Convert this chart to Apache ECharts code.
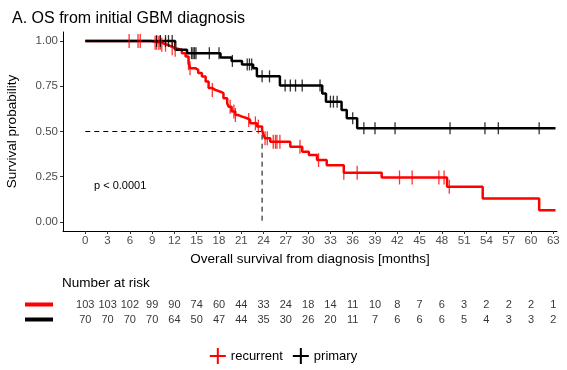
<!DOCTYPE html>
<html>
<head>
<meta charset="utf-8">
<script src="https://cdn.jsdelivr.net/npm/echarts@6/dist/echarts.min.js"></script>
<style>html,body{margin:0;padding:0;background:#fff}#c{width:567px;height:370px}</style>
</head>
<body>
<div id="c"></div>
<script>
// ---- data ----
const redTimes = [0, 8.8, 10.3, 11.0, 11.6, 12.1, 13.0, 13.5, 13.9, 14.1, 14.8, 15.2, 15.7, 16.2, 16.6, 17.1, 17.5, 18.2, 18.6, 19.1, 19.3, 19.7, 20.2, 20.6, 21.1, 21.8, 22.2, 23.1, 23.8, 24.0, 24.2, 24.9, 27.6, 29.2, 30.1, 31.2, 32.5, 34.8, 39.9, 48.7, 53.5, 61.1, 63.3];
const redSurv  = [1.0, 0.99, 0.98, 0.97, 0.96, 0.952, 0.933, 0.915, 0.878, 0.85, 0.841, 0.823, 0.804, 0.776, 0.74, 0.73, 0.72, 0.712, 0.684, 0.656, 0.637, 0.61, 0.591, 0.582, 0.573, 0.564, 0.545, 0.527, 0.508, 0.48, 0.462, 0.443, 0.416, 0.388, 0.37, 0.342, 0.314, 0.272, 0.246, 0.194, 0.13, 0.065, 0.065];
const blackTimes = [0, 12.1, 13.7, 18.2, 19.7, 21.1, 22.6, 23.1, 26.2, 31.9, 32.4, 34.5, 35.2, 36.6, 63.3];
const blackSurv  = [1.0, 0.952, 0.933, 0.909, 0.89, 0.871, 0.85, 0.805, 0.754, 0.71, 0.665, 0.619, 0.573, 0.518, 0.518];
const redCensor = [5.9, 7.1, 7.4, 9.4, 9.6, 9.9, 10.1, 10.3, 10.8, 11.7, 12.1, 13.9, 14.1, 17.1, 19.5, 20.0, 20.2, 22.0, 22.9, 23.3, 24.2, 24.5, 25.3, 25.6, 25.8, 26.2, 28.9, 31.4, 34.8, 36.6, 42.3, 44.0, 47.6, 48.3, 49.0];
const blackCensor = [9.6, 10.1, 10.8, 11.2, 11.7, 14.3, 14.5, 14.7, 14.9, 16.7, 18.0, 19.8, 21.8, 22.1, 22.4, 23.8, 24.8, 26.9, 27.6, 28.3, 29.2, 31.6, 33.0, 33.4, 33.9, 36.0, 37.5, 39.0, 41.7, 49.1, 53.8, 55.6, 61.1];
const medianTime = 23.8;
const medianSurv = 0.5;
const xTicks = [0,3,6,9,12,15,18,21,24,27,30,33,36,39,42,45,48,51,54,57,60,63];
const yTicks = [0, 0.25, 0.5, 0.75, 1.0];
const riskRecurrent = [103,103,102,99,90,74,60,44,33,24,18,14,11,10,8,7,6,3,2,2,2,1];
const riskPrimary   = [70,70,70,70,64,50,47,44,35,30,26,20,11,7,6,6,6,5,4,3,3,2];
const groups = ['recurrent', 'primary'];

// ---- helpers ----
function zipPts(ts, ss){ return ts.map((t,i)=>[t, ss[i]]); }
function survAt(ts, ss, t){ let v = ss[0]; for (let i=0;i<ts.length;i++){ if (ts[i] <= t) v = ss[i]; } return v; }
const RED = '#ff0000', BLK = '#000000';
const tickSym = 'path://M0,0h1v10h-1z';
const plusIcon = 'path://M7,0h2v7h7v2h-7v7h-2v-7h-7v-2h7z';
const FONT = 'Liberation Sans, Arial, sans-serif';

const chart = echarts.init(document.getElementById('c'), null, {renderer:'canvas'});
chart.setOption({
  animation: false,
  backgroundColor: '#fff',
  textStyle: {fontFamily: FONT},
  title: {text: 'A. OS from initial GBM diagnosis', left: 7, top: 6,
    textStyle: {fontSize: 16, fontWeight: 'normal', color: '#000', fontFamily: FONT}},
  graphic: [
    {type:'text', left: 94, top: 180, style:{text:'p < 0.0001', fill:'#000', font: '11px ' + FONT}},
    {type:'text', left: 62, top: 276, style:{text:'Number at risk', fill:'#000', font: '13.5px ' + FONT}}
  ],
  legend: {
    data: [{name:'recurrent', icon: plusIcon, itemStyle:{color:RED}}, {name:'primary', icon: plusIcon, itemStyle:{color:BLK}}],
    left: 'center', top: 343, itemWidth: 16, itemHeight: 16, itemGap: 10,
    textStyle: {fontSize: 13, color:'#000', fontFamily: FONT}
  },
  grid: [
    {left: 63, right: 10, top: 32, bottom: 139, outerBoundsMode: 'none', containLabel: false},
    {left: 63, right: 10, top: 297, height: 30, outerBoundsMode: 'none', containLabel: false}
  ],
  xAxis: [
    {gridIndex: 0, type: 'value', min: -3, max: 63.5,
      name: 'Overall survival from diagnosis [months]', nameLocation: 'middle', nameGap: 20,
      nameTextStyle: {fontSize: 13.5, color:'#000', fontFamily: FONT},
      axisLine: {show: true, onZero: false, lineStyle: {color:'#000', width: 1}},
      axisTick: {show: true, length: 3, customValues: xTicks, lineStyle:{color:'#333'}},
      axisLabel: {customValues: xTicks, fontSize: 11.5, color: '#4d4d4d', margin: 4, fontFamily: FONT},
      splitLine: {show: false}},
    {gridIndex: 1, type: 'value', min: -3, max: 63.5, show: false}
  ],
  yAxis: [
    {gridIndex: 0, type: 'value', min: -0.05, max: 1.05,
      name: 'Survival probability', nameLocation: 'middle', nameGap: 44, nameRotate: 90,
      nameTextStyle: {fontSize: 13.5, color:'#000', fontFamily: FONT},
      axisLine: {show: true, onZero: false, lineStyle: {color:'#000', width: 1}},
      axisTick: {show: true, length: 3, customValues: yTicks, lineStyle:{color:'#333'}},
      axisLabel: {customValues: yTicks, fontSize: 11.5, color: '#4d4d4d', margin: 5, fontFamily: FONT,
        formatter: v => v.toFixed(2)},
      splitLine: {show: false}},
    {gridIndex: 1, type: 'category', data: groups, inverse: true,
      axisLine: {show: false}, axisTick: {show: false}, splitLine: {show:false},
      axisLabel: {show: true, interval: 0, hideOverlap: false, margin: 10,
        formatter: v => v === 'recurrent' ? '{r|}' : '{k|}',
        rich: {r: {width: 28, height: 4, backgroundColor: RED}, k: {width: 28, height: 4, backgroundColor: BLK}}}}
  ],
  series: [
    {name: 'median', type: 'line', xAxisIndex: 0, yAxisIndex: 0, symbol: 'none', silent: true,
      data: [[0, medianSurv], [medianTime, medianSurv], [medianTime, 0]],
      lineStyle: {color: '#000', width: 1, type: [5, 4]}, z: 1},
    {name: 'recurrent', type: 'line', step: 'end', symbol: 'none', data: zipPts(redTimes, redSurv),
      lineStyle: {color: RED, width: 2.5}, itemStyle: {color: RED}, z: 3},
    {name: 'primary', type: 'line', step: 'end', symbol: 'none', data: zipPts(blackTimes, blackSurv),
      lineStyle: {color: BLK, width: 2.5}, itemStyle: {color: BLK}, z: 4},
    {name: 'recurrent censor', type: 'scatter', symbol: tickSym, symbolSize: [1.3, 14],
      data: redCensor.map(t => [t, survAt(redTimes, redSurv, t)]),
      itemStyle: {color: RED, opacity: 0.8}, z: 5},
    {name: 'primary censor', type: 'scatter', symbol: tickSym, symbolSize: [1.3, 12],
      data: blackCensor.map(t => [t, survAt(blackTimes, blackSurv, t)]),
      itemStyle: {color: BLK}, z: 6},
    {name: 'risk', type: 'scatter', xAxisIndex: 1, yAxisIndex: 1, symbolSize: 0, silent: true,
      data: xTicks.map((t,i)=>[t, 'recurrent', riskRecurrent[i]]).concat(xTicks.map((t,i)=>[t, 'primary', riskPrimary[i]])),
      label: {show: true, position: 'inside', formatter: p => String(p.value[2]), fontSize: 11, color: '#000', fontFamily: FONT}}
  ]
});
</script>
</body>
</html>
